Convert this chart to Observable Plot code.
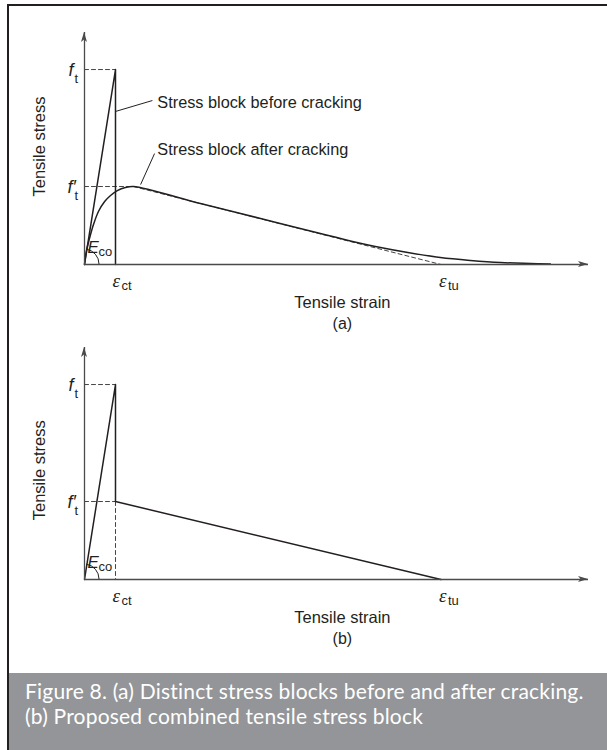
<!DOCTYPE html>
<html><head><meta charset="utf-8">
<script src="https://cdn.jsdelivr.net/npm/d3@7"></script>
<script src="https://cdn.jsdelivr.net/npm/@observablehq/plot@0.6"></script>
<style>
html,body{margin:0;padding:0;background:#fff;}
#page{position:relative;width:607px;height:750px;overflow:hidden;background:#fff;}
#frameTop{position:absolute;left:7px;top:4px;width:600px;height:2px;background:#231f20;}
#frameLeft{position:absolute;left:7px;top:4px;width:2px;height:746px;background:#231f20;}
.chart{position:absolute;left:0;}
#chartA{top:0;} #chartB{top:315px;}
#caption{position:absolute;left:9px;top:673px;width:598px;height:77px;background:#939598;color:#fff;
  font-family:Lato,"Open Sans",sans-serif;font-size:21px;letter-spacing:0.2px;line-height:25px;box-sizing:border-box;padding:5px 0 0 16px;white-space:nowrap;}
</style></head><body>
<div id="page">
  <div id="frameTop"></div><div id="frameLeft"></div>
  <div class="chart" id="chartA"></div>
  <div class="chart" id="chartB"></div>
  <div id="caption">Figure 8. (a) Distinct stress blocks before and after cracking.<br>(b) Proposed combined tensile stress block</div>
</div>
<script>
// ---- data (strain in units of eps_ct, stress in units of f_t) ----
const strainMax = 16.26, stressMax = 1.19;
const epsCt = 1.0, epsTu = 11.5;
const ft = 1.0, ftPrime = 0.4;
const peakStrain = 1.58;
const afterStrain = [0, 0.065, 0.16, 0.29, 0.45, 0.65, 0.84, 1.06, 1.32, 1.58, 3.74, 5.68, 7.61, 8.58, 9.55, 10.52, 11.48, 12.45, 13.42, 14.39, 15.03];
const afterStress = [0, 0.072, 0.133, 0.205, 0.272, 0.323, 0.354, 0.379, 0.395, 0.40, 0.313, 0.236, 0.159, 0.121, 0.087, 0.059, 0.036, 0.021, 0.010, 0.005, 0.0025];
const beforeStrain = [0, epsCt, epsCt];
const beforeStress = [0, ft, 0];
const combinedStrain = [0, epsCt, epsCt, epsTu];
const combinedStress = [0, ft, ftPrime, 0];
const yLabel = "Tensile stress", xLabel = "Tensile strain";
const noteBefore = "Stress block before cracking", noteAfter = "Stress block after cracking";

const ink = "#231f20", axisColor = "#4a4a4a", dashColor = "#444";
const sans = "Liberation Sans, Arial, sans-serif";
const serif = "Liberation Serif, Times New Roman, serif";

const pts = (xs, ys) => xs.map((x, i) => ({x, y: ys[i]}));
const seg = (x1, y1, x2, y2) => [{x: x1, y: y1}, {x: x2, y: y2}];
const txt = (x, y, t, o = {}) => Plot.text([{x, y, t}], {x: "x", y: "y", text: "t", fill: ink, fontFamily: sans, fontSize: 16, ...o});

function decorations(arcTo) {
  return (index, scales) => {
    const {x, y} = scales;
    const g = d3.create("svg:g");
    const x0 = x(0), y0 = y(0), xe = x(strainMax), ye = y(stressMax);
    g.append("path").attr("d", `M${xe},${y0}l-10,-3l2.5,3l-2.5,3z`).attr("fill", axisColor);
    g.append("path").attr("d", `M${x0},${ye}l-3,10l3,-2.5l3,2.5z`).attr("fill", axisColor);
    const r = 15;
    const ang = Math.atan2(y0 - y(arcTo[1]), x(arcTo[0]) - x0);
    g.append("path")
      .attr("d", `M${x0 + r},${y0}A${r},${r} 0 0 0 ${x0 + r * Math.cos(ang)},${y0 - r * Math.sin(ang)}`)
      .attr("fill", "none").attr("stroke", ink).attr("stroke-width", 1);
    return g.node();
  };
}

function commonMarks(yLabelPos, subLabel) {
  return [
    Plot.ruleY([0], {stroke: axisColor, strokeWidth: 1.3}),
    Plot.ruleX([0], {stroke: axisColor, strokeWidth: 1.3}),
    decorations([epsCt, ft]),
    // axis labels
    txt(0, yLabelPos, yLabel, {rotate: -90, dx: -45, fontSize: 16.5}),
    txt(8.32, 0, xLabel, {dy: 38, fontSize: 16.5}),
    txt(8.32, 0, subLabel, {dy: 59}),
    // strain labels
    txt(epsCt, 0, "ε", {fontFamily: serif, fontStyle: "italic", fontSize: 19, textAnchor: "start", dx: -3, dy: 16}),
    txt(epsCt, 0, "ct", {fontSize: 13, textAnchor: "start", dx: 6, dy: 21}),
    txt(epsTu, 0, "ε", {fontFamily: serif, fontStyle: "italic", fontSize: 19, textAnchor: "start", dx: -2, dy: 16}),
    txt(epsTu, 0, "tu", {fontSize: 13, textAnchor: "start", dx: 7, dy: 21}),
    // stress labels
    txt(0, ft, "f", {fontStyle: "italic", fontSize: 18, textAnchor: "start", dx: -16, dy: 1}),
    txt(0, ft, "t", {fontSize: 13, textAnchor: "start", dx: -10, dy: 9}),
    txt(0, ftPrime, "f′", {fontStyle: "italic", fontSize: 18, textAnchor: "start", dx: -17, dy: 1}),
    txt(0, ftPrime, "t", {fontSize: 13, textAnchor: "start", dx: -10, dy: 9}),
    txt(0, 0, "E", {fontStyle: "italic", fontSize: 17, textAnchor: "start", dx: 3, dy: -17}),
    txt(0, 0, "co", {fontSize: 13, textAnchor: "start", dx: 14, dy: -13})
  ];
}

function makePlot(marks) {
  return Plot.plot({
    width: 607, height: 340,
    marginLeft: 84, marginRight: 19, marginTop: 32, marginBottom: 76,
    x: {domain: [0, strainMax], axis: null},
    y: {domain: [0, stressMax], axis: null},
    style: {background: "transparent", overflow: "visible"},
    marks
  });
}

const dashed = {stroke: dashColor, strokeWidth: 1, strokeDasharray: "4,3"};
const solid = {stroke: ink, strokeWidth: 1.5};

const plotA = makePlot([
  Plot.line(seg(0, ft, epsCt, ft), {x: "x", y: "y", ...dashed}),
  Plot.line(seg(0, ftPrime, peakStrain, ftPrime), {x: "x", y: "y", ...dashed}),
  Plot.line(seg(peakStrain, ftPrime, epsTu, 0), {x: "x", y: "y", ...dashed}),
  Plot.line(pts(beforeStrain, beforeStress), {x: "x", y: "y", ...solid}),
  Plot.line(pts(afterStrain, afterStress), {x: "x", y: "y", curve: "catmull-rom", ...solid}),
  ...commonMarks(0.605, "(a)"),
  Plot.link([{x1: 1.0, y1: 0.785, x2: 2.19, y2: 0.841}], {x1: "x1", y1: "y1", x2: "x2", y2: "y2", stroke: ink, strokeWidth: 1}),
  Plot.link([{x1: 1.81, y1: 0.41, x2: 2.26, y2: 0.569}], {x1: "x1", y1: "y1", x2: "x2", y2: "y2", stroke: ink, strokeWidth: 1}),
  txt(2.35, 0.828, noteBefore, {textAnchor: "start", fontSize: 16.3}),
  txt(2.35, 0.59, noteAfter, {textAnchor: "start", fontSize: 16.3})
]);

const plotB = makePlot([
  Plot.line(seg(0, ft, epsCt, ft), {x: "x", y: "y", ...dashed}),
  Plot.line(seg(0, ftPrime, epsCt, ftPrime), {x: "x", y: "y", ...dashed}),
  Plot.line(seg(epsCt, ftPrime, epsCt, 0), {x: "x", y: "y", ...dashed}),
  Plot.line(pts(combinedStrain, combinedStress), {x: "x", y: "y", ...solid}),
  ...commonMarks(0.56, "(b)")
]);

document.getElementById("chartA").appendChild(plotA);
document.getElementById("chartB").appendChild(plotB);
</script>
</body></html>
